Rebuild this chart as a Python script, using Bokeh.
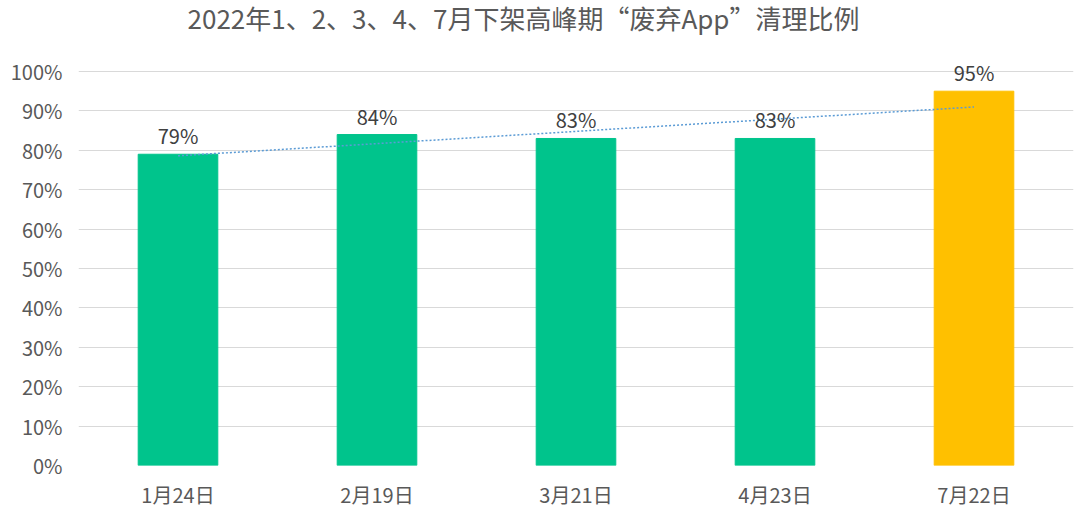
import numpy as np
from bokeh.plotting import figure
from bokeh.models import (ColumnDataSource, FixedTicker, NumeralTickFormatter, Range1d,
                          Label, LabelSet)
from bokeh.core.properties import value
from bokeh.embed import file_html
from bokeh.resources import INLINE

categories = ["1月24日", "2月19日", "3月21日", "4月23日", "7月22日"]
rates = [0.79, 0.84, 0.83, 0.83, 0.95]
labels = ["79%", "84%", "83%", "83%", "95%"]
colors = ["#00C48C", "#00C48C", "#00C48C", "#00C48C", "#FFC000"]
y_ticks = [i / 10 for i in range(11)]
title_text = "2022年1、2、3、4、7月下架高峰期“废弃App”清理比例"

FONT = "Noto Sans CJK SC"

src = ColumnDataSource(dict(cat=categories, rate=rates, label=labels, color=colors))

# frame extends above 100% so the title and top label sit inside it
p = figure(x_range=categories, y_range=Range1d(0, 465 / 394),
           frame_width=995, frame_height=465,
           output_backend="svg", toolbar_location=None,
           min_border_left=78, min_border_right=2, min_border_top=0, min_border_bottom=40)
p.title = None

title = Label(x=445, y=448, x_units="screen", y_units="screen", text=title_text,
              text_align="center", text_baseline="middle", text_font=FONT,
              text_font_size="26px", text_color="#595959")
p.add_layout(title)

p.vbar(x="cat", top="rate", width=0.4, color="color", source=src)

# linear trendline over bar positions
xi = np.arange(len(rates))
k, b = np.polyfit(xi, rates, 1)
trend_y = [b, b + k * (len(rates) - 1)]
p.line(x=[categories[0], categories[-1]], y=trend_y, line_color="#5B9BD5",
       line_width=1.5, line_dash="2 2")

vals = LabelSet(x="cat", y="rate", text="label", source=src, text_align="center",
                text_baseline="bottom", y_offset=4, text_font=value(FONT),
                text_font_size=value("20px"), text_color="#404040")
p.add_layout(vals)

p.outline_line_color = None
p.background_fill_color = "white"
p.border_fill_color = "white"
p.xgrid.grid_line_color = None
p.ygrid.grid_line_color = "#D9D9D9"
p.ygrid.grid_line_width = 1

p.yaxis.ticker = FixedTicker(ticks=y_ticks)
p.yaxis.formatter = NumeralTickFormatter(format="0%")
for ax in (p.xaxis[0], p.yaxis[0]):
    ax.axis_line_color = None
    ax.major_tick_line_color = None
    ax.minor_tick_line_color = None
    ax.major_label_text_font = FONT
    ax.major_label_text_font_size = "20px"
    ax.major_label_text_color = "#595959"
p.yaxis.major_label_standoff = 10
p.xaxis.major_label_standoff = 8

open("out.html", "w").write(file_html(p, INLINE))
